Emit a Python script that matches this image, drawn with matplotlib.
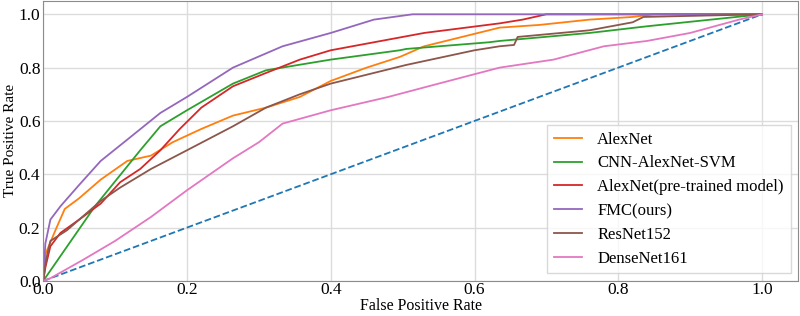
import matplotlib
matplotlib.use('Agg')
import matplotlib.pyplot as plt

# ROC curve points
alexnet_fpr = [0.0, 0.003, 0.017, 0.03, 0.05, 0.08, 0.117, 0.15, 0.18, 0.22, 0.264, 0.31,
               0.357, 0.40, 0.45, 0.496, 0.53, 0.575, 0.635, 0.69, 0.76, 0.82, 0.85, 1.0]
alexnet_tpr = [0.0, 0.10, 0.19, 0.27, 0.31, 0.38, 0.45, 0.47, 0.52, 0.57, 0.62, 0.65,
               0.69, 0.75, 0.80, 0.84, 0.88, 0.91, 0.95, 0.96, 0.98, 0.99, 1.0, 1.0]

svm_fpr = [0.0, 0.072, 0.135, 0.163, 0.2, 0.264, 0.31, 0.40, 0.496, 0.505, 0.62, 0.635,
           0.76, 0.84, 1.0]
svm_tpr = [0.0, 0.28, 0.49, 0.58, 0.64, 0.74, 0.79, 0.83, 0.865, 0.87, 0.895, 0.90,
           0.93, 0.955, 1.0]

pretrained_fpr = [0.0, 0.003, 0.01, 0.024, 0.05, 0.08, 0.107, 0.135, 0.163, 0.19, 0.22,
                  0.264, 0.31, 0.357, 0.40, 0.47, 0.53, 0.635, 0.667, 0.70, 1.0]
pretrained_tpr = [0.0, 0.05, 0.13, 0.18, 0.23, 0.29, 0.37, 0.42, 0.49, 0.57, 0.65,
                  0.73, 0.78, 0.83, 0.865, 0.90, 0.93, 0.966, 0.98, 1.0, 1.0]

fmc_fpr = [0.0, 0.003, 0.01, 0.024, 0.05, 0.08, 0.117, 0.163, 0.2, 0.264, 0.333, 0.40,
           0.46, 0.514, 1.0]
fmc_tpr = [0.0, 0.14, 0.23, 0.28, 0.36, 0.45, 0.53, 0.63, 0.69, 0.80, 0.88, 0.93,
           0.98, 1.0, 1.0]

resnet_fpr = [0.0, 0.004, 0.01, 0.033, 0.08, 0.107, 0.15, 0.2, 0.264, 0.31, 0.357, 0.40,
              0.505, 0.60, 0.635, 0.655, 0.66, 0.76, 0.82, 0.835, 1.0]
resnet_tpr = [0.0, 0.08, 0.15, 0.19, 0.30, 0.35, 0.42, 0.49, 0.58, 0.65, 0.70, 0.74,
              0.81, 0.865, 0.88, 0.885, 0.915, 0.94, 0.97, 0.99, 1.0]

densenet_fpr = [0.0, 0.01, 0.056, 0.10, 0.15, 0.2, 0.264, 0.30, 0.333, 0.40, 0.48, 0.55,
                0.635, 0.71, 0.78, 0.84, 0.90, 0.968, 1.0]
densenet_tpr = [0.0, 0.01, 0.08, 0.15, 0.24, 0.34, 0.46, 0.52, 0.59, 0.64, 0.69, 0.74,
                0.80, 0.83, 0.88, 0.90, 0.93, 0.98, 1.0]

chance = [0.0, 1.0]

plt.rcParams['font.family'] = ['Liberation Serif', 'DejaVu Serif']

fig = plt.figure(figsize=(8, 3.16), dpi=100)
ax = fig.add_axes([0.054, 0.111, 0.9435, 0.886])

ax.plot(chance, chance, color='tab:blue', linestyle='--', linewidth=1.3)
ax.plot(alexnet_fpr, alexnet_tpr, color='tab:orange', linewidth=1.3, label='AlexNet')
ax.plot(svm_fpr, svm_tpr, color='tab:green', linewidth=1.3, label='CNN-AlexNet-SVM')
ax.plot(pretrained_fpr, pretrained_tpr, color='tab:red', linewidth=1.3,
        label='AlexNet(pre-trained model)')
ax.plot(fmc_fpr, fmc_tpr, color='tab:purple', linewidth=1.3, label='FMC(ours)')
ax.plot(resnet_fpr, resnet_tpr, color='tab:brown', linewidth=1.3, label='ResNet152')
ax.plot(densenet_fpr, densenet_tpr, color='tab:pink', linewidth=1.3, label='DenseNet161')

ax.set_xlim(0, 1.05)
ax.set_ylim(0, 1.05)
ax.set_xticks([0.0, 0.2, 0.4, 0.6, 0.8, 1.0])
ax.set_yticks([0.0, 0.2, 0.4, 0.6, 0.8, 1.0])
ax.tick_params(length=0, labelsize=12.5)
ax.tick_params(axis='x', pad=1)
ax.tick_params(axis='y', pad=2)
ax.grid(color='#dcdcdc', linewidth=1)
ax.set_axisbelow(True)
for spine in ax.spines.values():
    spine.set_color('#8c8c8c')
ax.set_xlabel('False Positive Rate', fontsize=11.5)
ax.set_ylabel('True Positive Rate', fontsize=11)
ax.xaxis.set_label_coords(0.5, -0.062)
ax.yaxis.set_label_coords(-0.035, 0.5)

ax.legend(loc='lower right', fontsize=12, handlelength=1.7, handletextpad=0.9,
          labelspacing=0.47, borderpad=0.4, borderaxespad=0.45,
          edgecolor='#d0d0d0', fancybox=False)

fig.savefig('out.png', dpi=100)
